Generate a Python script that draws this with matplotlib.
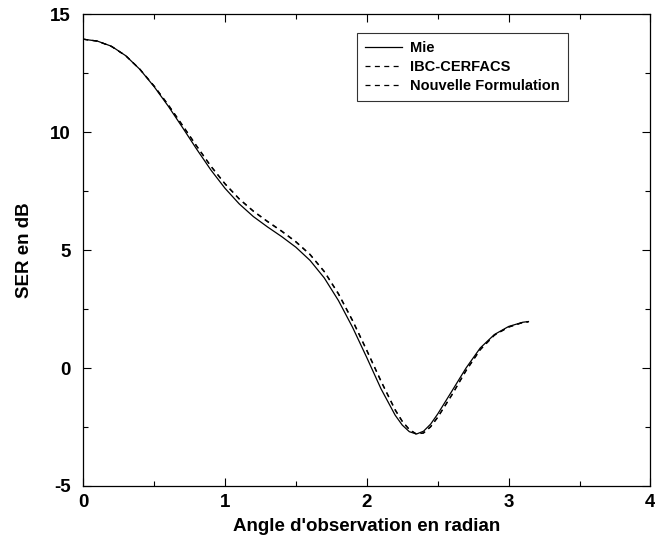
import matplotlib.pyplot as plt
from matplotlib.ticker import MultipleLocator

plt.rcParams['font.family'] = ['Liberation Sans', 'DejaVu Sans']
plt.rcParams['font.weight'] = 'bold'
plt.rcParams['axes.unicode_minus'] = False

# angle d'observation (rad)
angle = [0, 0.1, 0.2, 0.3, 0.4, 0.5, 0.6, 0.7, 0.8, 0.9, 1.0, 1.1, 1.2, 1.3,
         1.4, 1.5, 1.6, 1.7, 1.8, 1.9, 2.0, 2.1, 2.2, 2.25, 2.3, 2.35, 2.4,
         2.45, 2.5, 2.6, 2.7, 2.8, 2.9, 3.0, 3.1, 3.14]

mie = [13.94, 13.86, 13.64, 13.24, 12.66, 11.93, 11.1, 10.2, 9.28, 8.4, 7.62,
       6.96, 6.42, 5.98, 5.57, 5.12, 4.56, 3.82, 2.86, 1.72, 0.44, -0.88,
       -2.0, -2.42, -2.7, -2.8, -2.68, -2.38, -1.95, -0.98, 0.0, 0.85, 1.42,
       1.76, 1.94, 1.97]

ibc = [13.94, 13.86, 13.63, 13.24, 12.67, 11.96, 11.16, 10.3, 9.42, 8.57,
       7.82, 7.18, 6.66, 6.22, 5.81, 5.36, 4.82, 4.1, 3.16, 2.02, 0.76,
       -0.54, -1.76, -2.25, -2.6, -2.8, -2.76, -2.5, -2.1, -1.15, -0.12, 0.77,
       1.39, 1.73, 1.93, 1.96]

nouvelle = [13.94, 13.86, 13.63, 13.24, 12.66, 11.95, 11.15, 10.28, 9.4,
            8.55, 7.8, 7.16, 6.64, 6.2, 5.79, 5.34, 4.8, 4.08, 3.13, 1.99,
            0.73, -0.57, -1.79, -2.27, -2.62, -2.8, -2.75, -2.48, -2.08,
            -1.13, -0.1, 0.79, 1.4, 1.74, 1.93, 1.96]

fig = plt.figure(figsize=(6.55, 5.46), dpi=100)
ax = fig.add_axes([0.127, 0.110, 0.866, 0.864])

ax.plot(angle, mie, color='black', lw=0.9, label='Mie')
ax.plot(angle, ibc, color='black', lw=0.9, ls=(0, (4, 3.5)), label='IBC-CERFACS')
ax.plot(angle, nouvelle, color='black', lw=0.9, ls=(0, (4, 3.5)),
        label='Nouvelle Formulation')

ax.set_xlim(0, 4)
ax.set_ylim(-5, 15)
ax.xaxis.set_major_locator(MultipleLocator(1))
ax.xaxis.set_minor_locator(MultipleLocator(0.5))
ax.yaxis.set_major_locator(MultipleLocator(5))
ax.yaxis.set_minor_locator(MultipleLocator(2.5))
ax.tick_params(which='both', direction='in', top=True, right=True,
               labelsize=13.5, width=0.8)
ax.tick_params(which='major', length=6)
ax.tick_params(which='minor', length=3.5)
ax.tick_params(axis='x', which='major', pad=6)
ax.tick_params(axis='y', which='major', pad=9)
for s in ax.spines.values():
    s.set_linewidth(0.9)

ax.set_xlabel("Angle d'observation en radian", fontsize=13.5,
              fontweight='bold', labelpad=5)
ax.set_ylabel("SER en dB", fontsize=13.5, fontweight='bold', labelpad=12)

leg = ax.legend(loc='upper left', bbox_to_anchor=(0.483, 0.961),
                fontsize=10.5, frameon=True, fancybox=False,
                edgecolor='black', handlelength=2.5, handletextpad=0.6,
                borderaxespad=0, labelspacing=0.37, borderpad=0.55)
leg.get_frame().set_linewidth(0.8)
for t in leg.get_texts():
    t.set_fontweight('bold')

fig.savefig('out.png', dpi=100)
